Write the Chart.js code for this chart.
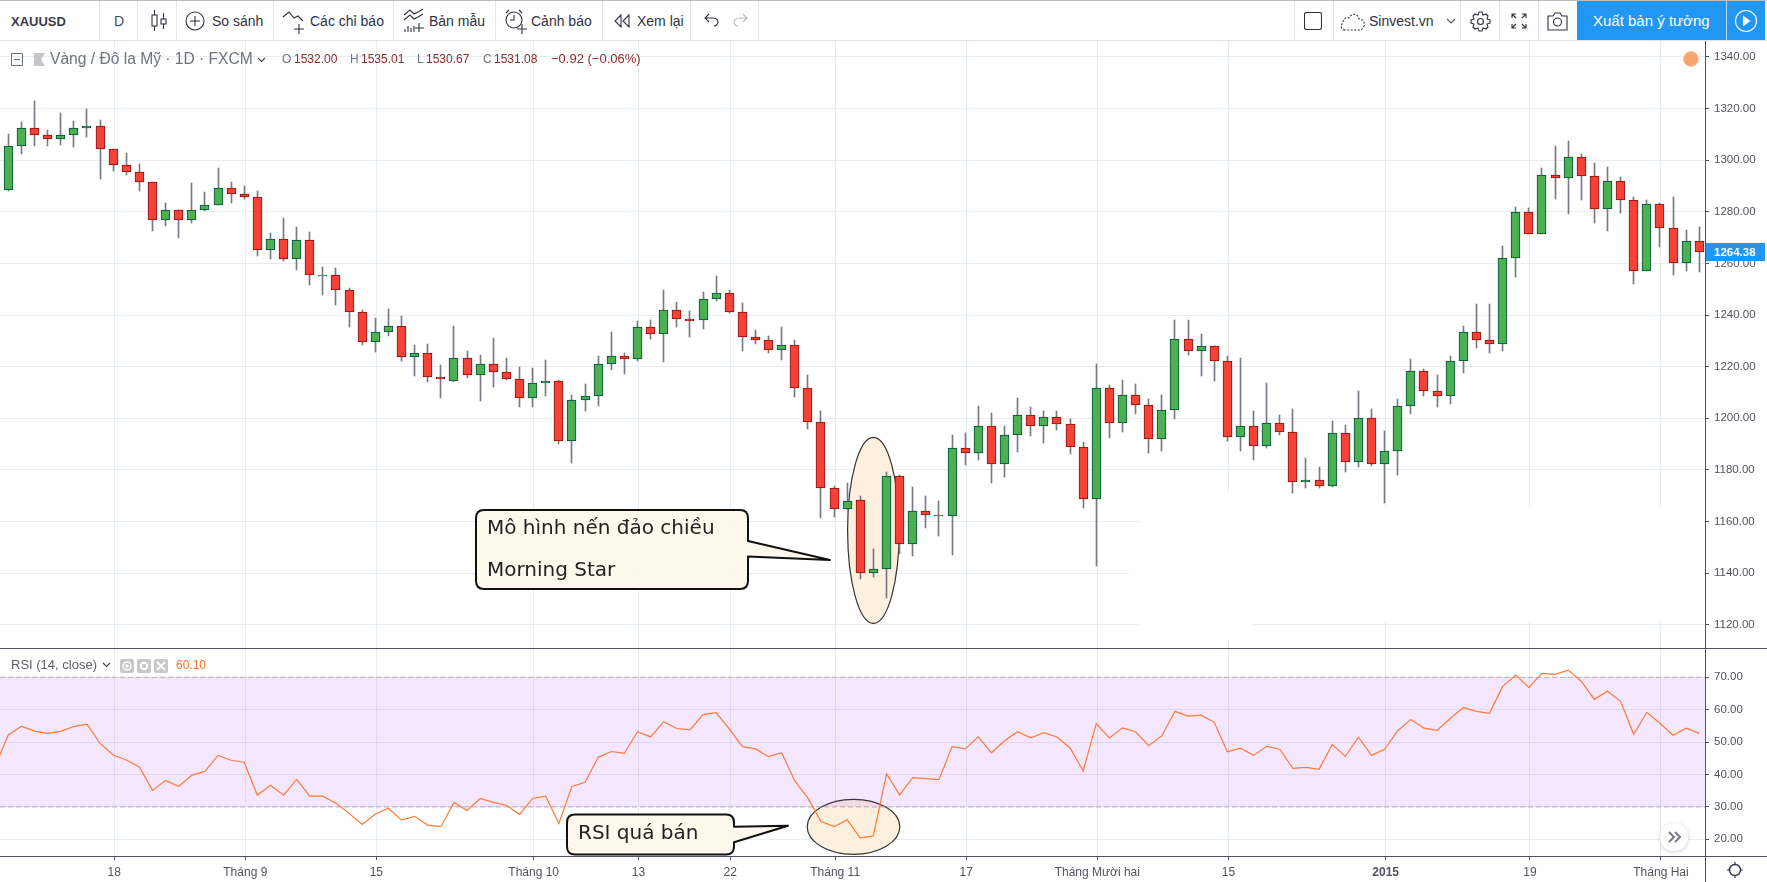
<!DOCTYPE html>
<html lang="vi"><head><meta charset="utf-8"><title>XAUUSD</title>
<script src="https://cdn.jsdelivr.net/npm/chart.js@4"></script>
<style>
html,body{margin:0;padding:0;background:#fff;width:1767px;height:882px;overflow:hidden;font-family:"Liberation Sans",Arial,sans-serif}
.abs,.t,.sep,svg{position:absolute}
canvas{position:absolute;left:0;display:block}
.t{white-space:nowrap;line-height:1}
.tb{font-size:14px;color:#2f3241;top:14px}
.sep{width:1px;height:39px;top:1px;background:#e3e6ec}
svg{fill:none;stroke:#2f3241;stroke-width:1.1}
.lg{font-size:12px;color:#6f7280;top:53px}
.lv{font-size:12px;color:#8f2a2a;top:53px}
.ic{position:absolute;top:659px;width:14px;height:14px;background:#c8c8c8;border-radius:2px}
</style></head><body>
<canvas id="priceCanvas" width="1767" height="607" style="top:41px"></canvas>
<canvas id="rsiCanvas" width="1767" height="234" style="top:648px"></canvas>

<!-- toolbar -->
<div class="abs" style="left:0;top:0;width:1767px;height:1px;background:#bdbdbd"></div>
<div class="abs" style="left:0;top:40px;width:1767px;height:1px;background:#e0e3eb"></div>
<div class="sep" style="left:99px"></div><div class="sep" style="left:137px"></div><div class="sep" style="left:176px"></div>
<div class="sep" style="left:273px"></div><div class="sep" style="left:393px"></div><div class="sep" style="left:495px"></div>
<div class="sep" style="left:602px"></div><div class="sep" style="left:690px"></div><div class="sep" style="left:758px"></div>
<div class="sep" style="left:1294px"></div><div class="sep" style="left:1333px"></div><div class="sep" style="left:1460px"></div>
<div class="sep" style="left:1499px"></div><div class="sep" style="left:1538px"></div>
<div class="t" style="left:11px;top:15px;font-size:13px;font-weight:bold;color:#3a3d48">XAUUSD</div>
<div class="t tb" style="left:114px;color:#3f4a63">D</div>
<svg style="left:150px;top:9px" width="18" height="24"><path d="M4.5 1v5M4.5 17v5M13.5 4v6M13.5 15v5"/><rect x="2" y="6" width="5" height="11"/><rect x="11" y="10" width="5" height="5"/></svg>
<svg style="left:185px;top:11px" width="20" height="20"><circle cx="10" cy="10" r="9"/><path d="M10 5v10M5 10h10"/></svg>
<div class="t tb" style="left:212px">So sánh</div>
<svg style="left:282px;top:9px" width="24" height="26"><path d="M1 8l6-5 5 6 4-2 5 5M17 15v10M12 20h10"/></svg>
<div class="t tb" style="left:310px">Các chỉ báo</div>
<svg style="left:403px;top:8px" width="22" height="26"><path d="M1 7l6-5 4 4 4-2 5-3M1 12l6-5 4 4 4-2 5-3M2 24v-3M5 24v-6M8 24v-4M11 24v-6M16 15v9M12 20h9"/></svg>
<div class="t tb" style="left:429px">Bản mẫu</div>
<svg style="left:504px;top:8px" width="24" height="28"><circle cx="10" cy="12" r="8"/><path d="M10 7v5H6M2 5l3-3M15 2l3 3M18 16v10M13 21h10"/></svg>
<div class="t tb" style="left:531px">Cảnh báo</div>
<svg style="left:614px;top:14px" width="16" height="14"><path d="M7 1l-6 6 6 6zM15 1l-6 6 6 6z"/></svg>
<div class="t tb" style="left:637px">Xem lại</div>
<svg style="left:704px;top:13px" width="16" height="16"><path d="M5 1L1 5l4 4M1 5h8c4 0 5 3 5 4s-1 4-4 4"/></svg>
<svg style="left:732px;top:13px;stroke:#b9bcc4" width="16" height="16"><path d="M11 1l4 4-4 4M15 5H7c-4 0-5 3-5 4s1 4 4 4"/></svg>
<svg style="left:1304px;top:12px" width="18" height="18"><rect x=".5" y=".5" width="17" height="17" rx="2"/></svg>
<svg style="left:1340px;top:12px;stroke-dasharray:2 1.5" width="26" height="19"><path d="M5 18C1 18 0 13 3 11 3 6 7 5 9 6 11 1 18 1 19 7c4 0 6 3 5 7-1 3-3 4-4 4z"/></svg>
<div class="t tb" style="left:1369px">Sinvest.vn</div>
<svg style="left:1446px;top:18px;stroke:#555" width="10" height="7"><path d="M1 1l4 4 4-4"/></svg>
<svg style="left:1470px;top:11px" width="21" height="21"><circle cx="10.5" cy="10.5" r="3"/><path d="M9 1h3l1 3 3-1 2 2-1 3 3 1v3l-3 1 1 3-2 2-3-1-1 3H9l-1-3-3 1-2-2 1-3-3-1V9l3-1-1-3 2-2 3 1z"/></svg>
<svg style="left:1511px;top:13px" width="16" height="16"><path d="M1 5V1h4M11 1h4v4M15 11v4h-4M5 15H1v-4M1 1l4 4M15 1l-4 4M15 15l-4-4M1 15l4-4"/></svg>
<svg style="left:1547px;top:11px" width="21" height="20"><path d="M1 5h5l2-3h5l2 3h5v14H1z"/><circle cx="10.5" cy="11" r="4"/></svg>
<div class="abs" style="left:1577px;top:1px;width:188px;height:39px;background:#2196f3"></div>
<div class="abs" style="left:1726px;top:1px;width:1px;height:39px;background:#b9dcfa"></div>
<div class="t" style="left:1593px;top:13px;font-size:15px;color:#fff">Xuất bản ý tưởng</div>
<svg style="left:1734px;top:9px;stroke:#fff" width="24" height="24"><circle cx="12" cy="12" r="10.5"/><path d="M9.5 7.5l6 4.5-6 4.5z" fill="#fff"/></svg>

<!-- price legend -->
<svg style="left:11px;top:53px;stroke:#6f7280" width="12" height="13"><rect x=".5" y=".5" width="11" height="12" rx="1"/><path d="M3 6.5h6"/></svg>
<svg style="left:34px;top:53px;stroke:none;fill:#c4c5c9" width="11" height="13"><path d="M0 0h11L7 6.5l4 6.5H0z"/></svg>
<div class="t" style="left:50px;top:51px;font-size:15.6px;color:#6f7280">Vàng / Đô la Mỹ · 1D · FXCM</div>
<svg style="left:257px;top:57px;stroke:#444" width="9" height="6"><path d="M1 1l3.5 3.5L8 1"/></svg>
<div class="t lg" style="left:282px">O</div><div class="t lv" style="left:294px">1532.00</div>
<div class="t lg" style="left:350px">H</div><div class="t lv" style="left:361px">1535.01</div>
<div class="t lg" style="left:417px">L</div><div class="t lv" style="left:426px">1530.67</div>
<div class="t lg" style="left:483px">C</div><div class="t lv" style="left:494px">1531.08</div>
<div class="t lv" style="left:551px;font-size:13px;top:52px">−0.92 (−0.06%)</div>
<div class="abs" style="left:1683px;top:51px;width:14px;height:14px;border-radius:50%;background:#f7a56f;border:1px solid #fbc9a6"></div>

<!-- RSI legend -->
<div class="t" style="left:11px;top:658px;font-size:13px;color:#5d606b">RSI (14, close)</div>
<svg style="left:102px;top:662px;stroke:#444" width="9" height="6"><path d="M1 1l3.5 3.5L8 1"/></svg>
<div class="ic" style="left:120px"><svg style="left:2px;top:2px;stroke:#fff;stroke-width:1.5" width="10" height="10"><circle cx="5" cy="5" r="4"/><circle cx="5" cy="5" r="1"/></svg></div>
<div class="ic" style="left:137px"><svg style="left:2px;top:2px;stroke:#fff;stroke-width:2" width="10" height="10"><circle cx="5" cy="5" r="3.2"/></svg></div>
<div class="ic" style="left:154px"><svg style="left:2px;top:2px;stroke:#fff;stroke-width:2" width="10" height="10"><path d="M1 1l8 8M9 1l-8 8"/></svg></div>
<div class="t" style="left:176px;top:659px;font-size:12px;color:#ff6d24">60.10</div>

<!-- frame -->
<div class="abs" style="left:0;top:648px;width:1767px;height:1px;background:#50535e"></div>
<div class="abs" style="left:0;top:856px;width:1767px;height:1px;background:#50535e"></div>
<div class="abs" style="left:1705px;top:41px;width:1px;height:841px;background:#50535e"></div>
<div class="abs" style="left:1660px;top:823px;width:28px;height:28px;border-radius:50%;background:#fff;box-shadow:0 1px 4px rgba(60,70,90,.25)"></div>
<svg style="left:1668px;top:831px;stroke:#787b86;stroke-width:2" width="13" height="12"><path d="M1 1l5 5-5 5M7 1l5 5-5 5"/></svg>
<svg style="left:1726px;top:861px" width="18" height="18"><circle cx="9" cy="9" r="5.5" stroke-width="1.4"/><path d="M9 1v3M9 14v3M1 9h3M14 9h3"/></svg>

<script>
const categories = Array.from({length:130},(_,i)=>i);
const open = [1288.6,1305.7,1312.3,1309.6,1308.4,1309.6,1312.6,1313.4,1304.5,1298.3,1295.6,1291.7,1276.7,1280.9,1276.7,1280.9,1282.5,1289.4,1287.1,1285.9,
1265.4,1269.3,1261.9,1268.9,1255.2,1255.4,1249.6,1241.0,1229.4,1233.3,1235.6,1223.6,1225.2,1215.9,1214.6,1223.2,1216.6,1221.2,1217.8,1215.4,
1207.7,1213.5,1214.3,1191.0,1206.9,1208.5,1220.9,1224.0,1222.8,1235.2,1232.5,1241.8,1238.3,1237.9,1246.4,1248.4,1241.0,1231.3,1230.5,1226.3,
1228.2,1211.9,1198.4,1172.8,1165.0,1168.3,1140.2,1141.4,1177.6,1151.2,1164.0,1162.5,1162.1,1188.4,1186.5,1197.0,1182.2,1193.5,1201.2,1197.0,
1200.5,1197.7,1188.8,1168.7,1211.7,1198.1,1209.0,1205.1,1191.9,1203.2,1230.7,1226.0,1228.0,1222.2,1192.7,1197.0,1189.2,1198.1,1194.6,1175.3,
1176.0,1173.8,1194.2,1183.1,1200.0,1182.3,1187.3,1204.6,1218.2,1210.5,1208.5,1222.1,1233.3,1230.2,1228.7,1262.0,1279.9,1271.3,1294.2,1293.0,
1301.2,1293.8,1281.0,1291.9,1284.5,1257.0,1283.0,1273.6,1260.1,1268.6];
const high = [1310.1,1314.7,1322.8,1311.6,1318.2,1315.1,1319.7,1315.5,1304.5,1302.7,1298.5,1291.7,1283.4,1280.9,1291.1,1287.6,1296.9,1291.5,1290.2,1288.0,
1271.8,1277.6,1274.1,1272.1,1258.6,1258.2,1250.3,1242.0,1238.9,1242.3,1239.6,1228.4,1228.8,1220.6,1235.7,1226.0,1224.5,1231.1,1223.3,1219.8,
1219.4,1222.5,1215.0,1209.0,1213.2,1224.1,1233.4,1225.2,1237.6,1238.0,1249.7,1245.0,1241.5,1248.9,1255.1,1249.7,1244.6,1234.2,1231.8,1235.3,
1230.3,1216.7,1202.8,1173.6,1174.9,1170.0,1149.3,1179.1,1178.1,1173.5,1170.0,1168.0,1193.6,1194.4,1204.9,1202.1,1197.1,1207.9,1204.5,1202.9,
1202.9,1199.8,1190.9,1221.1,1213.0,1214.9,1213.4,1207.6,1209.1,1238.2,1238.2,1232.8,1228.0,1224.2,1223.5,1202.9,1213.8,1201.4,1203.7,1184.7,
1181.2,1199.0,1197.4,1210.5,1203.6,1195.1,1207.4,1223.0,1219.1,1216.8,1224.2,1235.8,1244.3,1244.3,1266.8,1281.8,1281.4,1297.0,1305.6,1307.5,
1302.5,1299.0,1297.4,1293.5,1285.8,1284.6,1283.3,1285.8,1273.0,1274.2];
const low = [1288.1,1302.4,1305.5,1305.5,1305.9,1305.2,1309.0,1292.8,1295.9,1294.3,1288.1,1272.7,1274.6,1269.9,1275.7,1280.4,1282.5,1283.5,1285.0,1263.0,
1261.8,1261.1,1257.6,1251.8,1247.9,1244.0,1235.5,1228.2,1225.8,1232.0,1222.0,1216.2,1214.2,1207.9,1214.1,1215.7,1206.8,1212.2,1215.0,1204.4,
1204.4,1208.7,1190.1,1182.7,1202.9,1204.8,1218.8,1217.2,1222.3,1230.8,1221.9,1235.5,1231.6,1234.7,1245.5,1240.6,1226.2,1228.9,1225.4,1222.7,
1208.3,1195.9,1161.2,1161.8,1164.5,1137.8,1138.3,1130.3,1147.5,1146.5,1157.3,1154.2,1147.2,1181.7,1183.7,1175.1,1177.1,1186.8,1193.0,1190.6,
1195.3,1186.0,1165.4,1142.9,1192.2,1194.5,1201.5,1186.4,1187.2,1199.6,1224.7,1216.2,1214.3,1191.0,1187.5,1183.7,1188.3,1193.6,1170.9,1172.8,
1172.8,1173.4,1179.1,1181.0,1181.4,1167.0,1177.9,1201.8,1208.8,1204.5,1205.7,1217.7,1227.4,1225.1,1226.2,1254.9,1271.3,1271.3,1284.8,1279.0,
1284.4,1275.8,1272.4,1279.7,1252.2,1257.0,1266.2,1255.7,1256.9,1256.5];
const close = [1305.7,1312.3,1309.6,1308.4,1309.6,1312.6,1313.4,1304.5,1298.3,1295.6,1291.7,1276.7,1280.9,1276.7,1280.9,1282.5,1289.4,1287.1,1285.9,1265.4,
1269.3,1261.9,1268.9,1255.4,1255.4,1249.6,1241.0,1229.4,1233.3,1235.6,1223.6,1225.2,1215.9,1215.1,1223.2,1216.6,1221.2,1217.8,1215.4,1207.7,
1213.5,1214.3,1191.0,1206.9,1208.5,1220.9,1224.0,1222.8,1235.2,1232.5,1241.8,1238.3,1237.8,1246.4,1248.4,1241.0,1231.3,1230.5,1226.3,1228.2,
1211.9,1198.4,1172.8,1165.0,1168.1,1140.2,1141.4,1177.7,1151.2,1164.0,1162.5,1162.0,1188.4,1186.5,1197.0,1182.2,1193.5,1201.2,1197.0,1200.5,
1197.7,1188.8,1168.7,1211.7,1198.1,1209.0,1205.1,1191.9,1203.2,1230.7,1226.0,1228.0,1222.2,1192.7,1197.0,1189.2,1198.1,1194.6,1175.3,1176.0,
1173.7,1194.2,1183.1,1200.0,1182.3,1187.3,1204.6,1218.2,1210.5,1208.5,1222.1,1233.3,1230.2,1228.7,1262.0,1279.9,1271.3,1294.2,1293.0,1301.2,
1293.8,1281.0,1291.9,1284.5,1257.0,1283.0,1273.6,1260.1,1268.6,1264.4];
const rsiBefore = 42.6;
const rsi = [52.2,54.9,53.4,52.7,53.3,54.8,55.5,49.6,46.0,44.5,42.3,35.1,38.2,36.3,39.8,41.0,45.9,44.4,43.8,33.6,
36.7,33.6,38.5,33.3,33.3,31.1,28.0,24.6,27.8,29.6,25.9,27.1,24.4,23.9,31.4,28.9,32.6,31.4,30.5,27.7,
32.6,33.3,24.9,36.3,37.6,45.3,47.1,46.5,53.2,51.6,56.3,54.2,53.8,58.5,59.1,54.1,48.6,47.9,45.5,46.7,
38.0,32.7,25.5,23.9,26.0,20.4,21.1,40.2,33.7,39.0,38.7,38.4,48.6,47.9,51.6,46.7,50.4,53.2,51.3,52.9,
51.6,48.2,41.1,55.7,51.3,54.4,53.2,48.9,51.9,59.5,58.0,58.3,56.1,47.0,48.1,45.9,48.7,47.8,41.9,42.2,
41.6,49.3,45.6,51.5,45.9,47.8,53.5,57.0,54.3,53.6,57.3,60.7,59.5,58.9,67.2,70.7,66.9,71.2,70.9,72.2,
68.8,63.2,65.7,62.6,52.4,59.2,55.8,52.1,54.3,52.7];
const priceTicks = [1120,1140,1160,1180,1200,1220,1240,1260,1280,1300,1320,1340];
const rsiTicks = [20,30,40,50,60,70];
const rsiBands = [70,30];
const lastPrice = 1264.38;
const timeTickIndex = [8,18,28,40,48,55,63,73,83,93,105,116,126];
const timeTickLabels = ['18','Tháng 9','15','Tháng 10','13','22','Tháng 11','17','Tháng Mười hai','15','2015','19','Tháng Hai'];

const UP='#4caf50',UPB='#004d40',DN='#f44336',DNB='#8b0f0f',WICK='#787b86',GRID='#e6edf3',AXIS='#50535e',TXT='#50535e';
Chart.defaults.font.family='"Liberation Sans",Arial,sans-serif';
const xMin=-0.633,xMax=129.44,tickNudge=0.08;
function noPad(s){s.paddingTop=s.paddingBottom=s.paddingLeft=s.paddingRight=0;}

function xAxis(showLabels){return {
  type:'linear',min:xMin,max:xMax,offset:false,
  afterBuildTicks(s){s.ticks=timeTickIndex.map(v=>({value:v+tickNudge}));},
  afterFit(s){s.height=showLabels?26:0;noPad(s);},
  border:{display:false},
  grid:{offset:false,color:GRID,lineWidth:1,drawTicks:showLabels,tickColor:AXIS,tickLength:4},
  ticks:{display:showLabels,autoSkip:false,maxRotation:0,minRotation:0,padding:5,color:TXT,
    font:c=>({size:12,weight:c.index===10?'bold':'normal'}),
    callback:(v,i)=>timeTickLabels[i]}
};}
function yAxis(min,max,list){return {
  position:'right',min,max,
  afterBuildTicks(s){s.ticks=list.map(v=>({value:v}));},
  afterFit(s){s.width=62;noPad(s);},
  border:{display:false},
  grid:{color:GRID,lineWidth:1,tickColor:AXIS,tickLength:4},
  ticks:{padding:5,color:TXT,font:{size:11.5},callback:v=>v.toFixed(2)}
};}
function ellipse(ctx,cx,cy,rx,ry){
  ctx.save();ctx.beginPath();ctx.ellipse(cx,cy,rx,ry,0,0,Math.PI*2);
  ctx.fillStyle='rgba(253,239,220,.95)';ctx.fill();
  ctx.strokeStyle='#333';ctx.lineWidth=1.2;ctx.stroke();ctx.restore();
}
function callout(ctx,l,t,r,b,tail,lines){
  const rad=8;
  ctx.save();ctx.beginPath();ctx.moveTo(l+rad,t);ctx.lineTo(r-rad,t);ctx.quadraticCurveTo(r,t,r,t+rad);
  ctx.lineTo(r,tail[0]);ctx.lineTo(tail[1],tail[2]);ctx.lineTo(r,tail[3]);
  ctx.lineTo(r,b-rad);ctx.quadraticCurveTo(r,b,r-rad,b);ctx.lineTo(l+rad,b);ctx.quadraticCurveTo(l,b,l,b-rad);
  ctx.lineTo(l,t+rad);ctx.quadraticCurveTo(l,t,l+rad,t);ctx.closePath();
  ctx.fillStyle='rgba(255,247,236,.93)';ctx.fill();
  ctx.strokeStyle='#111';ctx.lineWidth=2;ctx.lineJoin='round';ctx.stroke();
  ctx.fillStyle='#222';ctx.font='20px "DejaVu Sans"';ctx.textBaseline='middle';ctx.textAlign='left';
  lines.forEach(L=>ctx.fillText(L[0],L[1],L[2]));
  ctx.restore();
}
const pixelSnap={id:'pixelSnap',afterDatasetsUpdate(chart){
  chart.data.datasets.forEach((d,i)=>{chart.getDatasetMeta(i).data.forEach(el=>{
    el.x=Math.floor(el.x)+.5;el.y=Math.round(el.y);el.base=Math.round(el.base);});});
}};
const priceDecor={id:'priceDecor',
  beforeDatasetsDraw(chart){
    const c=chart.ctx;c.save();c.translate(0,-41);c.fillStyle='#fff';
    c.fillRect(1141,493,112,147);c.fillRect(1253,493,127,130);c.fillRect(1380,507,325,115);c.fillRect(1129,560,12,20);
    ellipse(c,873.4,530.3,25.8,93);c.restore();
  },
  afterDatasetsDraw(chart){
    const c=chart.ctx;c.save();c.translate(0,-41);
    callout(c,476,510,748,589,[541,830,560,556.5],[['Mô hình nến đảo chiều',487,529],['Morning Star',487,571]]);
    c.restore();
  },
  afterDraw(chart){
    const c=chart.ctx,y=Math.round(chart.scales.y.getPixelForValue(lastPrice));
    c.save();c.fillStyle='#2196f3';c.fillRect(1706,y-9,59,18);
    c.fillStyle='#fff';c.font='bold 11.5px "Liberation Sans"';c.textBaseline='middle';c.fillText(lastPrice.toFixed(2),1714,y+.5);c.restore();
  }
};
const rsiDecor={id:'rsiDecor',
  beforeDatasetsDraw(chart){const c=chart.ctx;c.save();c.translate(0,-648);ellipse(c,853.5,826.8,46.3,27.5);c.restore();},
  afterDatasetsDraw(chart){const c=chart.ctx;c.save();c.translate(0,-648);
    callout(c,567,814.5,734,854.5,[826.7,788,825.7,842.3],[['RSI quá bán',578,834]]);c.restore();}
};
new Chart(document.getElementById('priceCanvas'),{
  type:'bar',
  data:{datasets:[
    {label:'Thân nến',barThickness:9,grouped:false,borderWidth:1,borderSkipped:false,
     backgroundColor:categories.map(i=>close[i]>=open[i]?UP:DN),
     borderColor:categories.map(i=>close[i]>=open[i]?UPB:DNB),
     data:categories.map(i=>({x:i,y:[open[i],close[i]]}))},
    {label:'Bóng nến',barThickness:1,grouped:false,borderWidth:0,backgroundColor:WICK,
     data:categories.map(i=>({x:i,y:[low[i],high[i]]}))}
  ]},
  options:{responsive:false,devicePixelRatio:1,animation:false,events:[],
    layout:{autoPadding:false,padding:0},
    plugins:{legend:{display:false},tooltip:{enabled:false}},
    scales:{x:xAxis(false),y:yAxis(1110.97,1346.2,priceTicks)}},
  plugins:[pixelSnap,priceDecor]
});
new Chart(document.getElementById('rsiCanvas'),{
  type:'line',
  data:{datasets:[
    {label:'RSI',borderColor:'#ff7a33',borderWidth:1.2,pointRadius:0,tension:0,fill:false,
     data:[{x:-1,y:rsiBefore}].concat(categories.map(i=>({x:i,y:rsi[i]})))},
    {label:'70',borderColor:'#b8aebb',borderWidth:1,borderDash:[5,3],pointRadius:0,fill:'+1',backgroundColor:'rgba(156,39,255,.11)',
     data:[{x:xMin,y:rsiBands[0]},{x:xMax,y:rsiBands[0]}]},
    {label:'30',borderColor:'#b8aebb',borderWidth:1,borderDash:[5,3],pointRadius:0,fill:false,
     data:[{x:xMin,y:rsiBands[1]},{x:xMax,y:rsiBands[1]}]}
  ]},
  options:{responsive:false,devicePixelRatio:1,animation:false,events:[],
    layout:{autoPadding:false,padding:0},
    plugins:{legend:{display:false},tooltip:{enabled:false}},
    scales:{x:xAxis(true),y:yAxis(14.85,79.04,rsiTicks)}},
  plugins:[rsiDecor]
});
</script>
</body></html>
